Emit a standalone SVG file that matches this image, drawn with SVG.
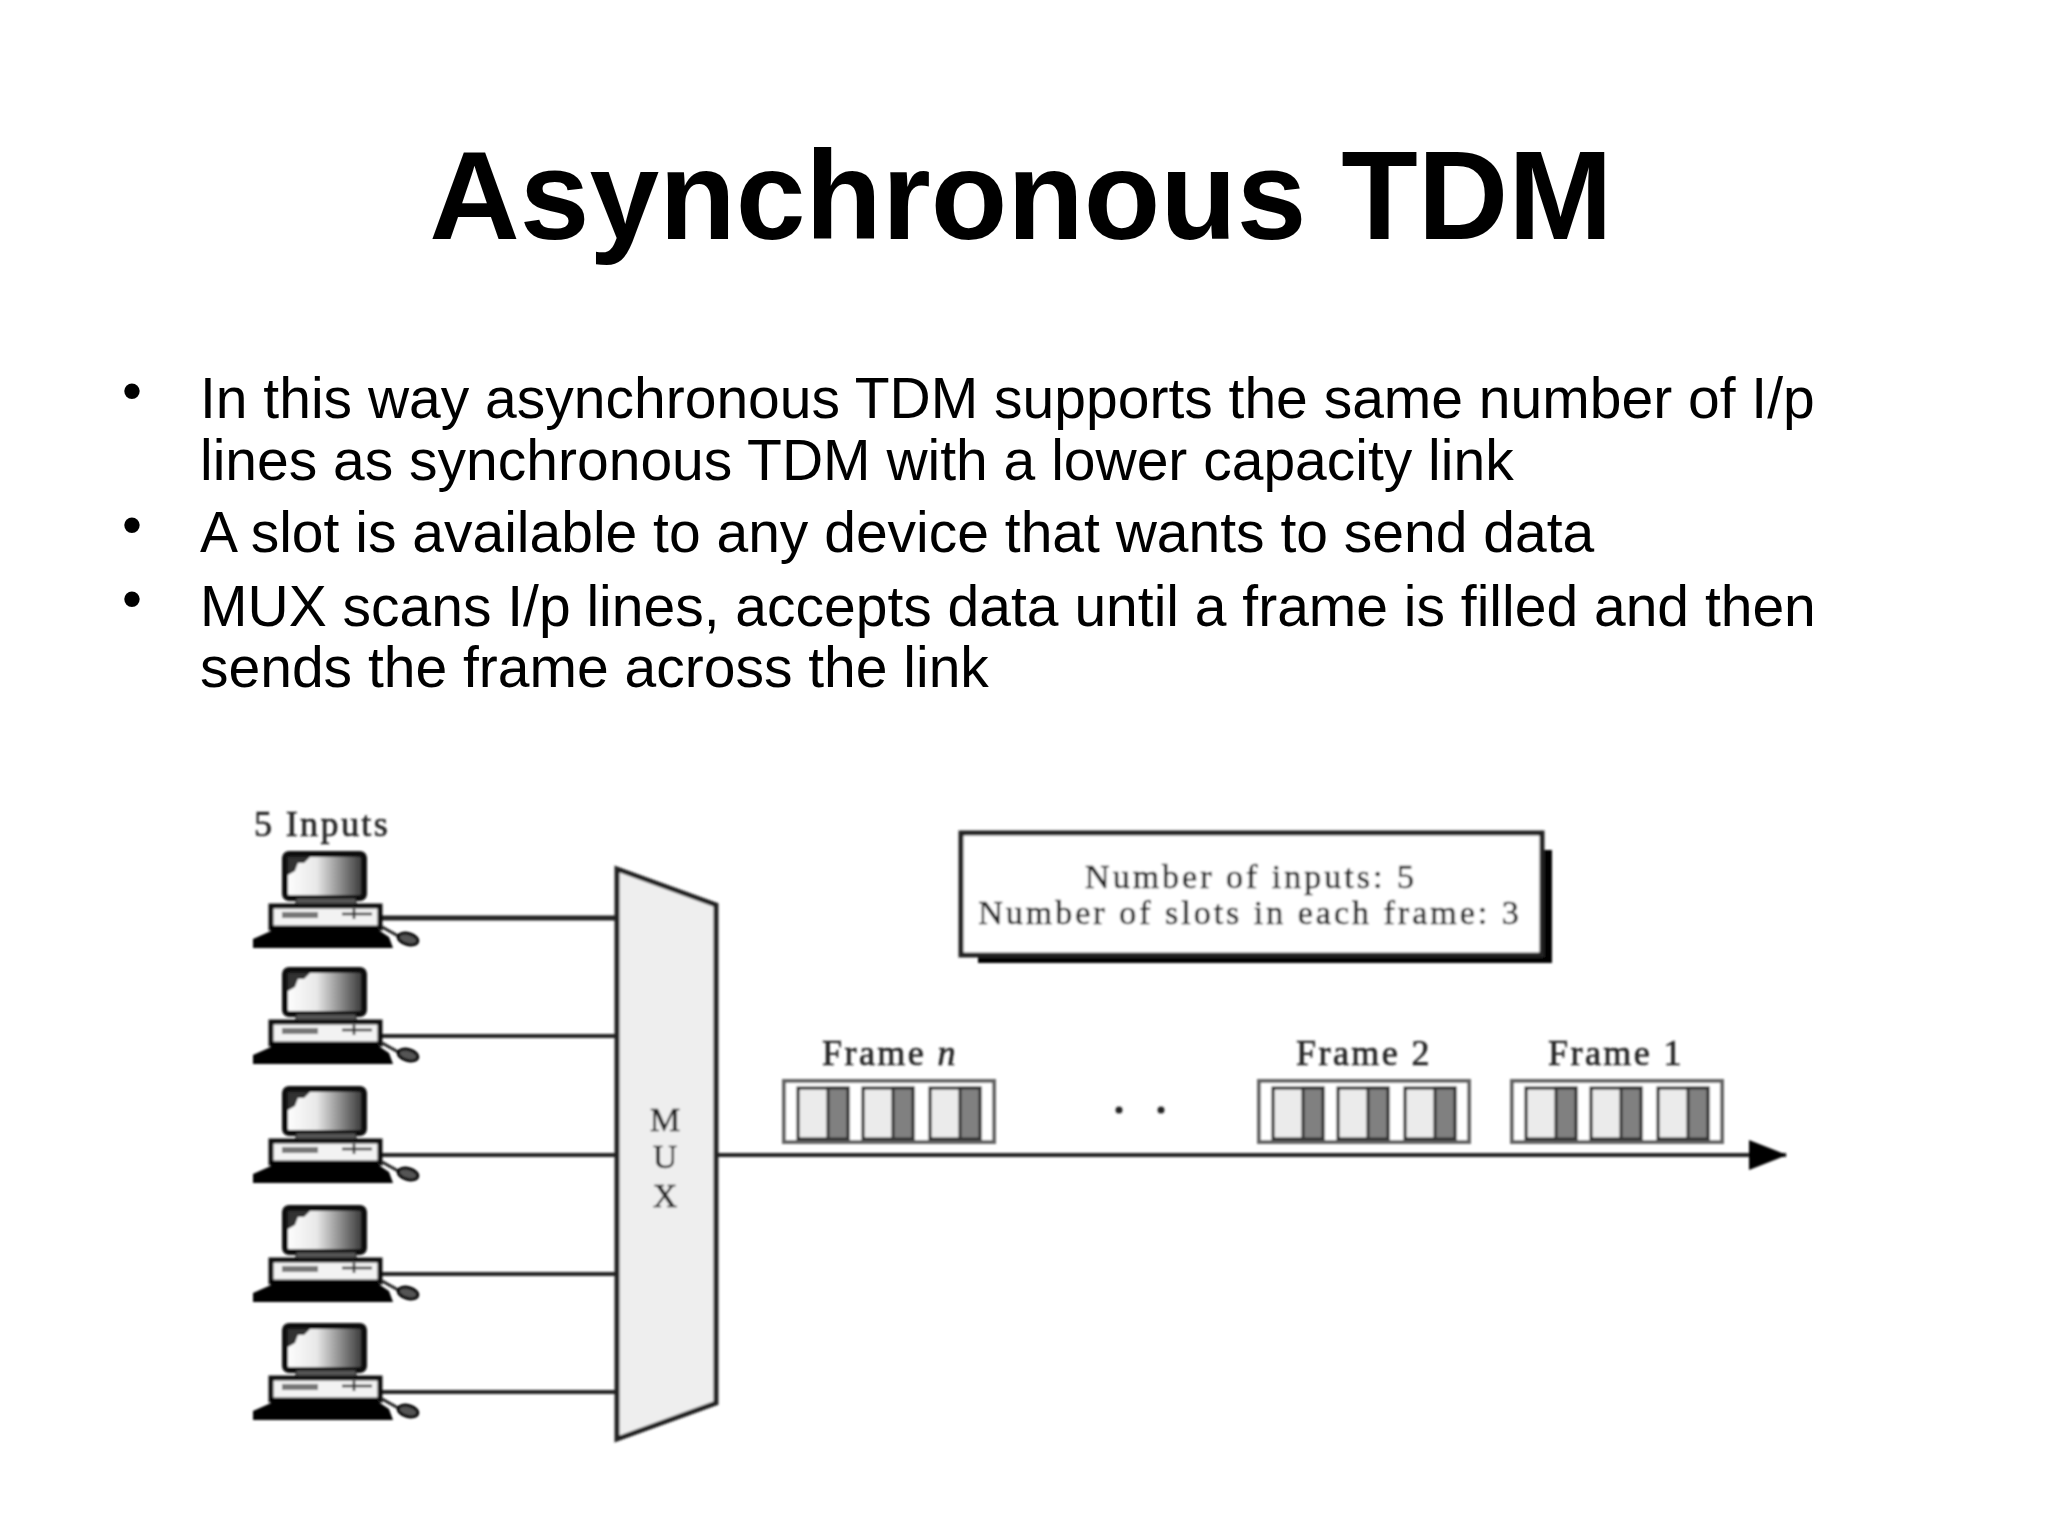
<svg xmlns="http://www.w3.org/2000/svg" xmlns:xlink="http://www.w3.org/1999/xlink" width="2048" height="1536" viewBox="0 0 2048 1536">
<style>
.title{font:bold 125.300px "Liberation Sans",Arial,sans-serif;fill:#000;text-anchor:middle}
.body{font:57px "Liberation Sans",Arial,sans-serif;fill:#000}
.fig{font-family:"Liberation Serif","Times New Roman",serif;fill:#222;stroke:#222;stroke-width:.6}
.lbl{font-size:36px;letter-spacing:2.400px;text-anchor:middle}
.wire{stroke:#222;stroke-width:4;fill:none}
.frame{fill:#fff;stroke:#666;stroke-width:4}
.slot{fill:#ebebeb;stroke:#222;stroke-width:3}
.dark{fill:#808080;stroke:#333;stroke-width:3}
</style>
<defs>
<linearGradient id="scr" x1="0" x2="1" y1="0" y2="0"><stop offset="0" stop-color="#fff"/><stop offset=".4" stop-color="#e8e8e8"/><stop offset="1" stop-color="#333"/></linearGradient>
<filter id="soft" x="-2%" y="-2%" width="104%" height="104%"><feGaussianBlur stdDeviation="0.8"/></filter>
<g id="pc">
<rect x="285" y="854" width="79" height="44" rx="4" fill="url(#scr)" stroke="#111" stroke-width="6"/>
<path d="M288 857h22l-6 6h-6l-3 8-7 4z" fill="#333"/>
<rect x="296" y="898" width="60" height="7" fill="#555" stroke="#111" stroke-width="1"/>
<rect x="271" y="906" width="109" height="22" fill="#f2f2f2" stroke="#111" stroke-width="5"/>
<rect x="282" y="912" width="36" height="6" fill="#777"/>
<path d="M342 914h30M354 909v10" stroke="#333" stroke-width="2.500" fill="none"/>
<path d="M253 948v-9l18-8v-4h104l5 4 9 6 4 11z" fill="#000"/>
<path d="M382 927l18 10" stroke="#222" stroke-width="3" fill="none"/>
<ellipse cx="408" cy="939" rx="10" ry="5.500" fill="#555" stroke="#000" stroke-width="3" transform="rotate(15 408 939)"/>
</g>
<g id="fr">
<rect x="0" y="0" width="210" height="61" class="frame"/>
<g id="s"><rect x="14" y="7" width="50" height="51" class="slot"/><rect x="44" y="7" width="20" height="51" class="dark"/></g>
<use xlink:href="#s" href="#s" x="65"/>
<use xlink:href="#s" href="#s" x="132"/>
</g>
<marker id="arr" markerUnits="userSpaceOnUse" markerWidth="38" markerHeight="30" refX="37" refY="15" orient="auto"><path d="M0 0L38 15L0 30z" fill="#000"/></marker>
</defs>
<rect width="2048" height="1536" fill="#fff"/>
<text class="title" x="1021" y="239">Asynchronous TDM</text>
<g id="bullets">
<text class="body" x="122" y="410">•</text>
<text class="body" x="200" y="418">In this way asynchronous TDM supports the same number of I/p</text>
<text class="body" x="200" y="480">lines as synchronous TDM with a lower capacity link</text>
<text class="body" x="122" y="544">•</text>
<text class="body" x="200" y="552">A slot is available to any device that wants to send data</text>
<text class="body" x="122" y="618">•</text>
<text class="body" x="200" y="626">MUX scans I/p lines, accepts data until a frame is filled and then</text>
<text class="body" x="200" y="687">sends the frame across the link</text>
</g>
<g filter="url(#soft)">
<g id="connectors">
<path class="wire" d="M382 918H615" style="stroke-width:5"/>
<path class="wire" d="M382 1036H615"/>
<path class="wire" d="M382 1155H615"/>
<path class="wire" d="M382 1274H615"/>
<path class="wire" d="M382 1392H615"/>
<path class="wire" d="M717 1155H1786" stroke="#444" marker-end="url(#arr)"/>
</g>
<g id="inputs"><text class="fig lbl" x="322" y="836">5 Inputs</text></g>
<g id="pc1"><use xlink:href="#pc" href="#pc"/></g>
<g id="pc2"><use xlink:href="#pc" href="#pc" y="116"/></g>
<g id="pc3"><use xlink:href="#pc" href="#pc" y="235"/></g>
<g id="pc4"><use xlink:href="#pc" href="#pc" y="354"/></g>
<g id="pc5"><use xlink:href="#pc" href="#pc" y="472"/></g>
<g id="mux">
<path d="M617 869L716 905V1403L617 1439z" fill="#eee" stroke="#222" stroke-width="5"/>
<text class="fig" x="665" y="1131" font-size="34" text-anchor="middle">M</text>
<text class="fig" x="665" y="1168" font-size="34" text-anchor="middle">U</text>
<text class="fig" x="665" y="1207" font-size="34" text-anchor="middle">X</text>
</g>
<g id="note">
<rect x="978" y="850" width="574" height="113" fill="#000"/>
<rect x="961" y="833" width="581" height="122" fill="#fff" stroke="#222" stroke-width="5"/>
<text class="fig" x="1251" y="888" font-size="34" letter-spacing="3" text-anchor="middle">Number of inputs: 5</text>
<text class="fig" x="1250" y="924" font-size="34" letter-spacing="3" text-anchor="middle">Number of slots in each frame: 3</text>
</g>
<g id="frame-n"><text class="fig lbl" x="890" y="1065">Frame <tspan font-style="italic">n</tspan></text><use xlink:href="#fr" href="#fr" x="784" y="1081"/></g>
<g id="dots"><circle cx="1119" cy="1110" r="3.500" fill="#222"/><circle cx="1161" cy="1110" r="3.500" fill="#222"/></g>
<g id="frame-2"><text class="fig lbl" x="1364" y="1065">Frame 2</text><use xlink:href="#fr" href="#fr" x="1259" y="1081"/></g>
<g id="frame-1"><text class="fig lbl" x="1616" y="1065">Frame 1</text><use xlink:href="#fr" href="#fr" x="1512" y="1081"/></g>
</g>
</svg>
